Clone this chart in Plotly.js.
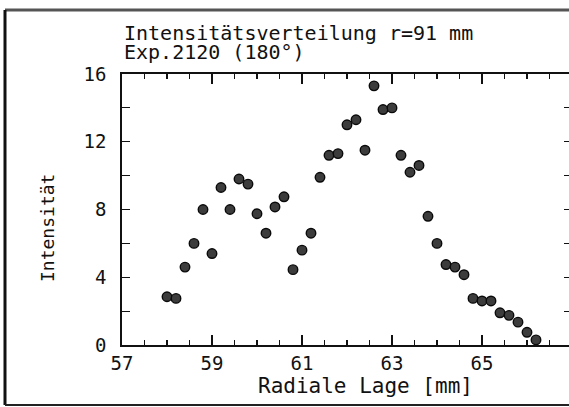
<!DOCTYPE html>
<html>
<head>
<meta charset="utf-8">
<script src="https://cdn.plot.ly/plotly-3.0.1.min.js"></script>
<style>
html,body{margin:0;padding:0;overflow:hidden;background:#fff;width:569px;height:407px;}
#chart{width:580px;height:407px;}
</style>
</head>
<body>
<div id="chart"></div>
<script>
// Data
const radialPosition = [58.0, 58.2, 58.4, 58.6, 58.8, 59.0, 59.2, 59.4, 59.6, 59.8,
  60.0, 60.2, 60.4, 60.6, 60.8, 61.0, 61.2, 61.4, 61.6, 61.8,
  62.0, 62.2, 62.4, 62.6, 62.8, 63.0, 63.2, 63.4, 63.6, 63.8,
  64.0, 64.2, 64.4, 64.6, 64.8, 65.0, 65.2, 65.4, 65.6, 65.8,
  66.0, 66.2];
const intensity = [2.85, 2.75, 4.6, 6.0, 8.0, 5.4, 9.3, 8.0, 9.8, 9.5,
  7.75, 6.6, 8.15, 8.75, 4.45, 5.6, 6.6, 9.9, 11.2, 11.3,
  13.0, 13.3, 11.5, 15.3, 13.9, 14.0, 11.2, 10.2, 10.6, 7.6,
  6.0, 4.75, 4.6, 4.15, 2.75, 2.6, 2.6, 1.9, 1.75, 1.35,
  0.75, 0.3];
const xTickVals = [57, 59, 61, 63, 65];
const xTickText = ["57", "59", "61", "63", "65"];
const yTickVals = [0, 4, 8, 12, 16];
const yTickText = ["0", "4", "8", "12", "16"];
const titleLine1 = "Intensitätsverteilung r=91 mm";
const titleLine2 = "Exp.2120 (180°)";
const xTitle = "Radiale Lage [mm]";
const yTitle = "Intensität";

const FONT = "DejaVu Sans Mono, monospace";
const trace = {
  x: radialPosition, y: intensity, type: "scatter", mode: "markers",
  marker: {size: 9.5, color: "#3c3c3c", line: {color: "#0a0a0a", width: 1.4}},
  hoverinfo: "skip", cliponaxis: false
};

const layout = {
  width: 580, height: 407,
  margin: {l: 122, r: 8, t: 74, b: 62},
  paper_bgcolor: "#fff", plot_bgcolor: "#fff",
  showlegend: false,
  font: {family: FONT, color: "#111", size: 19},
  xaxis: {
    range: [57, 67], tickvals: xTickVals, ticktext: xTickText,
    ticks: "inside", ticklen: 10, tickwidth: 1.3, tickcolor: "#111",
    minor: {dtick: 0.5, tick0: 57, ticks: "inside", ticklen: 5, tickwidth: 1.2, tickcolor: "#111"},
    showline: true, linewidth: 1.8, linecolor: "#111", mirror: "allticks",
    showgrid: false, zeroline: false, ticklabelstandoff: 0,
    tickfont: {family: FONT, size: 19, color: "#111"}
  },
  yaxis: {
    range: [0, 16], tickvals: yTickVals, ticktext: yTickText,
    ticks: "inside", ticklen: 8, tickwidth: 1.3, tickcolor: "#111",
    minor: {dtick: 2, tick0: 0, ticks: "inside", ticklen: 8, tickwidth: 1.2, tickcolor: "#111"},
    showline: true, linewidth: 1.8, linecolor: "#111", mirror: "allticks",
    showgrid: false, zeroline: false, ticklabelstandoff: 10,
    tickfont: {family: FONT, size: 19, color: "#111"}
  },
  annotations: [
    {text: titleLine1, xref: "paper", yref: "paper", x: 0.0, y: 1.152,
     xanchor: "left", yanchor: "middle", showarrow: false,
     font: {family: FONT, size: 20, color: "#111"}},
    {text: titleLine2, xref: "paper", yref: "paper", x: 0.0, y: 1.083,
     xanchor: "left", yanchor: "middle", showarrow: false,
     font: {family: FONT, size: 20, color: "#111"}},
    {text: xTitle, xref: "paper", yref: "paper", x: 0.54, y: -0.153,
     xanchor: "center", yanchor: "middle", showarrow: false,
     font: {family: FONT, size: 21, color: "#111"}},
    {text: yTitle, xref: "paper", yref: "paper", x: -0.1656, y: 0.4336,
     xanchor: "center", yanchor: "middle", showarrow: false, textangle: -90,
     font: {family: FONT, size: 18, color: "#111"}}
  ],
  shapes: [
    {type: "line", xref: "paper", yref: "paper", x0: -0.26, x1: 1.1, y0: 1.2362, y1: 1.2362,
     line: {color: "#555", width: 3}},
    {type: "line", xref: "paper", yref: "paper", x0: -0.26, x1: -0.26, y0: 1.2362, y1: -0.2214,
     line: {color: "#111", width: 3}},
    {type: "line", xref: "paper", yref: "paper", x0: -0.26, x1: 1.1, y0: -0.2214, y1: -0.2214,
     line: {color: "#222", width: 2}}
  ]
};

Plotly.newPlot("chart", [trace], layout, {staticPlot: true, displayModeBar: false});
</script>
</body>
</html>
